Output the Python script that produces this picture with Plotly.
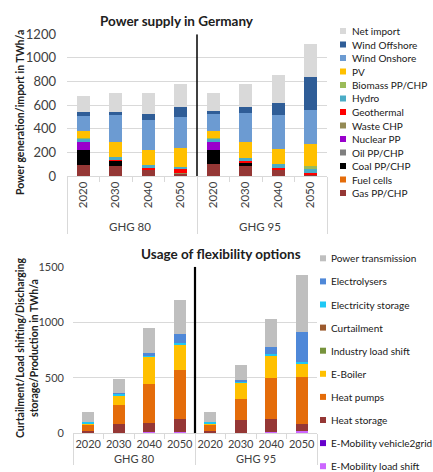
import plotly.graph_objects as go

W, H = 433, 472
FONT = "Lato"
TXT = "#404040"

scenarios = ["GHG 80"] * 4 + ["GHG 95"] * 4
years = ["2020", "2030", "2040", "2050"] * 2

# ---- Power supply (bottom -> top of stack), TWh/a
supply_names = ["Gas PP/CHP", "Fuel cells", "Coal PP/CHP", "Oil PP/CHP", "Nuclear PP",
                "Waste CHP", "Geothermal", "Hydro", "Biomass PP/CHP", "PV",
                "Wind Onshore", "Wind Offshore", "Net import"]
gas = [97, 85, 54, 17, 99, 87, 51, 5]
fuel_cells = [0, 0, 0, 0, 0, 0, 0, 0]
coal = [120, 41, 0, 0, 121, 25, 0, 0]
oil = [0, 0, 0, 0, 0, 0, 0, 0]
nuclear = [74, 0, 0, 0, 71, 0, 0, 0]
waste_chp = [0, 0, 0, 11, 0, 0, 0, 0]
geothermal = [0, 11, 17, 28, 0, 11, 20, 23]
hydro = [22, 25, 23, 23, 22, 28, 28, 28]
biomass = [12, 0, 0, 0, 12, 0, 0, 28]
pv = [54, 125, 127, 161, 56, 133, 130, 186]
wind_onshore = [133, 228, 257, 257, 144, 246, 288, 289]
wind_offshore = [28, 30, 51, 85, 28, 56, 99, 277]
net_import = [138, 158, 178, 198, 147, 189, 240, 278]
supply_values = [gas, fuel_cells, coal, oil, nuclear, waste_chp, geothermal, hydro,
                 biomass, pv, wind_onshore, wind_offshore, net_import]
supply_colors = ["#953735", "#E46C0A", "#000000", "#7F7F7F", "#9900CC",
                 "#948A54", "#FF0000", "#4BACC6", "#9BBB59", "#FFC000",
                 "#6C9BD2", "#2F5D97", "#D9D9D9"]

# ---- Flexibility options (bottom -> top of stack), TWh/a
flex_names = ["E-Mobility load shift", "E-Mobility vehicle2grid", "Heat storage",
              "Heat pumps", "E-Boiler", "Industry load shift", "Curtailment",
              "Electricity storage", "Electrolysers", "Power transmission"]
emob_load_shift = [0, 0, 9, 15, 0, 0, 9, 21]
emob_v2g = [0, 0, 0, 0, 0, 0, 0, 0]
heat_storage = [24, 80, 87, 114, 24, 120, 120, 63]
heat_pumps = [51, 171, 345, 441, 54, 189, 366, 426]
e_boiler = [18, 92, 249, 231, 15, 147, 207, 111]
industry_load_shift = [0, 0, 0, 0, 0, 0, 0, 0]
curtailment = [0, 0, 0, 0, 0, 0, 0, 0]
elec_storage = [8, 15, 15, 15, 9, 10, 12, 24]
electrolysers = [0, 5, 15, 78, 0, 14, 63, 264]
power_transmission = [88, 130, 225, 306, 87, 135, 255, 516]
flex_values = [emob_load_shift, emob_v2g, heat_storage, heat_pumps, e_boiler,
               industry_load_shift, curtailment, elec_storage, electrolysers,
               power_transmission]
flex_colors = ["#CC66FF", "#6600CC", "#953735", "#E46C0A", "#FFC000",
               "#77933C", "#9C5A2E", "#1FC8F5", "#4F88D8", "#BFBFBF"]

supply_ticks = [0, 200, 400, 600, 800, 1000, 1200]
flex_ticks = [0, 500, 1000, 1500]


def px_x(p):
    return p / W


def px_y(p):
    return 1 - p / H


fig = go.Figure()
for name, vals, col in zip(supply_names, supply_values, supply_colors):
    fig.add_trace(go.Bar(x=[scenarios, years], y=vals, name=name, marker_color=col,
                         marker_line_width=0, showlegend=False, xaxis="x", yaxis="y"))
for name, vals, col in zip(flex_names, flex_values, flex_colors):
    fig.add_trace(go.Bar(x=[scenarios, years], y=vals, name=name, marker_color=col,
                         marker_line_width=0, showlegend=False, xaxis="x2", yaxis="y2"))

axis_font = dict(family=FONT, size=11.5, color=TXT)
fig.update_layout(
    template="none",
    width=W, height=H, margin=dict(l=0, r=0, t=0, b=0, autoexpand=False),
    paper_bgcolor="white", plot_bgcolor="white",
    barmode="stack", bargap=0.61, showlegend=False,
    font=dict(family=FONT, color=TXT),
    xaxis=dict(domain=[px_x(67), px_x(327)], anchor="y", type="multicategory",
               automargin=False,
               tickangle=-90, tickfont=axis_font, showgrid=False, showline=True,
               linecolor="#D9D9D9", showdividers=True, dividercolor="#D9D9D9",
               ticks="outside", tickcolor="#D9D9D9"),
    yaxis=dict(domain=[px_y(176), px_y(34.3)], anchor="x", range=[0, 1200],
               automargin=False,
               tickvals=supply_ticks, tickfont=dict(family=FONT, size=13, color=TXT),
               gridcolor="#D9D9D9", zeroline=False, showline=False, ticks="",
               ticklabelstandoff=10),
    xaxis2=dict(domain=[px_x(73), px_x(317)], anchor="y2", type="multicategory",
                automargin=False,
                tickangle=0, tickfont=dict(family=FONT, size=11, color=TXT),
                showgrid=False, showline=True, linecolor="#D9D9D9",
                showdividers=True, dividercolor="#D9D9D9",
                ticks="outside", tickcolor="#D9D9D9"),
    yaxis2=dict(domain=[px_y(433.3), px_y(266.7)], anchor="x2", range=[0, 1500],
                automargin=False,
                tickvals=flex_ticks, tickfont=dict(family=FONT, size=11, color=TXT),
                gridcolor="#D9D9D9", zeroline=False, showline=False, ticks="",
                ticklabelstandoff=8),
)

# group separators
fig.add_shape(type="line", xref="x", yref="y", x0=3.5, x1=3.5, y0=0, y1=1200,
              line=dict(color="black", width=1.5))
fig.add_shape(type="line", xref="x2", yref="y2", x0=3.5, x1=3.5, y0=0, y1=1500,
              line=dict(color="black", width=2.2))

ann = []


def note(text, x, y, size, angle=0, xanchor="center", color="#202020"):
    ann.append(dict(text=text, x=px_x(x), y=px_y(y), xref="paper", yref="paper",
                    xanchor=xanchor, yanchor="middle", showarrow=False,
                    textangle=angle, font=dict(family=FONT, size=size, color=color)))


note("<b>Power supply in Germany</b>", 177, 21, 13.5)
note("<b>Usage of flexibility options</b>", 221, 254, 13.5)
note("<b>Power generation/import in TWh/a</b>", 20, 113, 10.5, angle=-90)
note("<b>Curtailment/Load shifting/Discharging<br>storage/Production in TWh/a</b>",
     27, 348, 10.5, angle=-90)

shapes = []
# manual legend, top (top of stack first)
for i, (name, col) in enumerate(zip(supply_names[::-1], supply_colors[::-1])):
    yc = 31 + i * 13.5
    shapes.append(dict(type="rect", xref="paper", yref="paper",
                       x0=px_x(340), x1=px_x(346), y0=px_y(yc + 3), y1=px_y(yc - 3),
                       fillcolor=col, line_width=0))
    note(name, 350, yc, 10, xanchor="left")
for i, (name, col) in enumerate(zip(flex_names[::-1], flex_colors[::-1])):
    yc = 258.3 + i * 23.1
    shapes.append(dict(type="rect", xref="paper", yref="paper",
                       x0=px_x(320), x1=px_x(326), y0=px_y(yc + 3), y1=px_y(yc - 3),
                       fillcolor=col, line_width=0))
    note(name, 329, yc, 10, xanchor="left")

for s in shapes:
    fig.add_shape(**s)
fig.update_layout(annotations=ann)

fig.write_html("out.html", config={"displayModeBar": False},
               post_script="document.body.style.margin='0';document.body.style.padding='0';")
